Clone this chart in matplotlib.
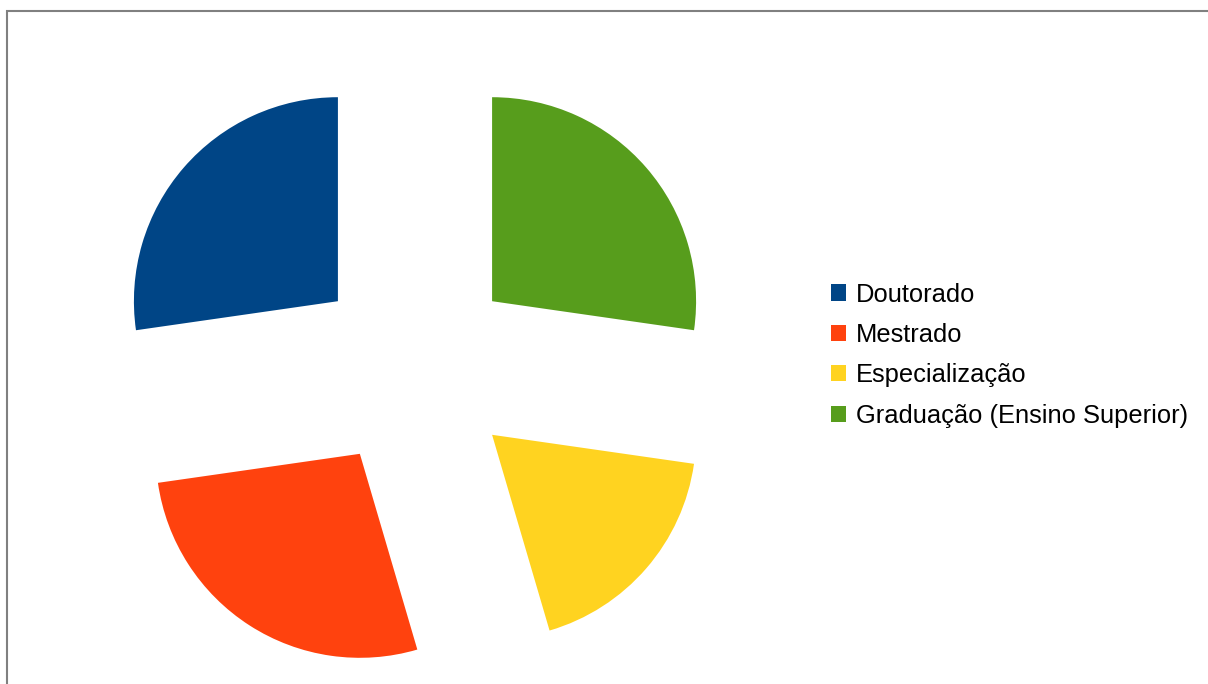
import matplotlib
matplotlib.use("Agg")
import matplotlib.pyplot as plt
from matplotlib.patches import Rectangle, Patch

categories = ["Doutorado", "Mestrado", "Especialização", "Graduação (Ensino Superior)"]
values = [3, 3, 2, 3]
colors = ["#004586", "#ff420e", "#ffd320", "#579d1c"]

W, H = 1208, 684
fig = plt.figure(figsize=(W / 100, H / 100), dpi=100)
fig.patch.set_facecolor("white")
plt.rcParams["font.family"] = ["Liberation Sans", "DejaVu Sans"]

ax = fig.add_axes([0, 0, 1, 1])
radius = 204
wedges, _ = ax.pie(values, colors=colors, startangle=90, counterclock=True,
                   center=(415, H - 368), radius=radius,
                   explode=[0.5 * radius] * len(values),
                   wedgeprops=dict(linewidth=0))
ax.set_xlim(0, W)
ax.set_ylim(0, H)
ax.set_aspect("equal")
ax.axis("off")

# border frame
fig.patches.append(Rectangle((7.5 / W, -0.1), 2, (H - 11.5) / H + 0.1,
                             transform=fig.transFigure, fill=False,
                             edgecolor="#808080", linewidth=1.5))

handles = [Patch(facecolor=c, edgecolor="none") for c in colors]
leg = fig.legend(handles, categories, loc="upper left",
                 bbox_to_anchor=(831 / W, 1 - 282.5 / H), frameon=False,
                 fontsize=18.4, handlelength=0.59, handleheight=0.59,
                 handletextpad=0.39, labelspacing=0.64, borderpad=0,
                 borderaxespad=0)
plt.savefig("out.png", dpi=100)
